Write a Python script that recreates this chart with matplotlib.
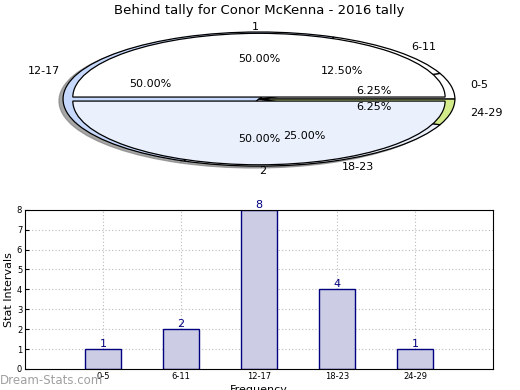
import matplotlib
matplotlib.use('Agg')
import matplotlib.pyplot as plt
import numpy as np

# Data
intervals = ['0-5', '6-11', '12-17', '18-23', '24-29']
counts = [1, 2, 8, 4, 1]
outer_colors = ['#ffffff', '#ffffff', '#c6d9fd', '#eaf1fd', '#d3ea8b']
halves = ['1', '2']
half_counts = [1, 1]
half_colors = ['#ffffff', '#eaf1fd']

title = 'Behind tally for Conor McKenna - 2016 tally'

fig = plt.figure(figsize=(5.2, 3.9), dpi=100)

# Pie (flattened)
ax1 = fig.add_axes([0.027, 0.531, 0.942, 0.43])
ax1.pie(counts, labels=intervals, colors=outer_colors, autopct='%1.2f%%',
        startangle=0, radius=1.0,
        shadow={'ox': -0.015, 'oy': -0.02, 'facecolor': '#808080',
                'edgecolor': '#808080', 'alpha': 0.7},
        wedgeprops=dict(edgecolor='black', linewidth=0.9),
        textprops=dict(fontsize=8))
ax1.pie(half_counts, labels=halves, colors=half_colors, autopct='%1.2f%%',
        startangle=0, radius=0.95, explode=[0.03, 0.03],
        wedgeprops=dict(edgecolor='black', linewidth=0.9),
        textprops=dict(fontsize=8))
ax1.set_aspect('auto')
ax1.set_xlim(-1.25, 1.25)
ax1.set_ylim(-1.25, 1.25)

fig.text(0.498, 0.974, title, ha='center', va='center', fontsize=9.5)

# Bars
ax2 = fig.add_axes([0.048, 0.054, 0.9, 0.408])
x = np.arange(1, len(intervals) + 1)
ax2.bar(x, counts, width=0.46, color='#cccce5', edgecolor='#000080', linewidth=1)
for xi, c in zip(x, counts):
    ax2.text(xi, c, str(c), ha='center', va='bottom', color='#000080', fontsize=8)
ax2.set_xlim(0, 6)
ax2.set_ylim(0, 8)
ax2.set_xticks(x)
ax2.set_xticklabels(intervals)
ax2.set_yticks(range(9))
ax2.tick_params(direction='in', labelsize=6, length=3, pad=2)
ax2.grid(True, linestyle=(0, (1, 2)), color='#bbbbbb', linewidth=0.8)
ax2.set_axisbelow(True)
ax2.set_ylabel('Stat Intervals', fontsize=8, labelpad=2)
ax2.set_xlabel('Frequency', fontsize=8, labelpad=3)

fig.text(0.0, 0.024, 'Dream-Stats.com', ha='left', va='center', fontsize=8.5,
         color='#a0a0a0')

plt.savefig('out.png', dpi=100)
